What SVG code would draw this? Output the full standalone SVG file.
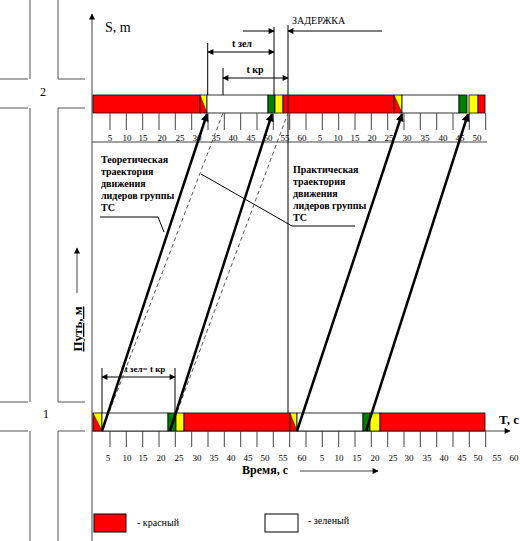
<svg xmlns="http://www.w3.org/2000/svg" width="520" height="541" viewBox="0 0 520 541">
<defs>
<style>
.t{font-family:"Liberation Serif","Times New Roman",serif;fill:#000}
.n{font-size:9px;text-anchor:middle}
.b{font-weight:bold}
.ln{stroke:#444;stroke-width:1;fill:none}
.rd{stroke:#555;stroke-width:1;fill:none}
.dim{stroke:#000;stroke-width:1;fill:none}
.red{fill:#ff0000;stroke:#000;stroke-width:0.8}
.yel{fill:#ffff00;stroke:#000;stroke-width:0.8}
.grn{fill:#008000;stroke:#000;stroke-width:0.8}
.wht{fill:#fff;stroke:#000;stroke-width:0.8}
.thick{stroke:#000;stroke-width:2.5;fill:none}
.dash{stroke:#555;stroke-width:1;stroke-dasharray:4 3;fill:none}
</style>
<marker id="ah" viewBox="0 0 10 10" refX="9" refY="5" markerWidth="7" markerHeight="6" markerUnits="userSpaceOnUse" orient="auto-start-reverse"><path d="M0,0 L10,5 L0,10 z" fill="#000"/></marker>
<marker id="ahb" viewBox="0 0 10 10" refX="9" refY="5" markerWidth="10" markerHeight="8" markerUnits="userSpaceOnUse" orient="auto"><path d="M0,0 L10,5 L0,10 z" fill="#000"/></marker>
</defs>

<!-- road schematic -->
<g id="road">
<path class="rd" d="M30,0 V79 M58,0 V79 M0,79 H28 M58,79 H85 M0,108 H28 M58,108 H85 M30,108 V402 M58,108 V402 M0,402 H28 M58,402 H85 M0,431 H28 M58,431 H85 M30,431 V541 M58,431 V541"/>
<text class="t" x="43" y="96" font-size="12" text-anchor="middle">2</text>
<text class="t" x="46" y="418" font-size="12" text-anchor="middle">1</text>
</g>

<!-- axes -->
<g id="axes">
<line class="ln" x1="92" y1="541" x2="92" y2="14" marker-end="url(#ah)"/>
<line class="ln" x1="92" y1="431" x2="510" y2="431" marker-end="url(#ah)"/>
<line class="ln" x1="92" y1="142" x2="487" y2="142"/>
<text class="t" x="105" y="32" font-size="14">S, m</text>
<text class="t b" x="499" y="424" font-size="13">T, c</text>
<text class="t b" x="242" y="474" font-size="12">Время, с</text>
<line class="ln" x1="300" y1="471" x2="378" y2="471" marker-end="url(#ah)"/>
<text class="t b" transform="translate(82,329) rotate(-90)" font-size="13" text-anchor="middle" text-decoration="underline">Путь, м</text>
<line class="ln" x1="77" y1="293" x2="77" y2="248" marker-end="url(#ah)"/>
</g>

<!-- top signal bar -->
<g id="bar-top">
<rect class="red" x="93" y="95" width="107" height="18"/>
<polygon fill="#ffff00" points="200,95 207,95 207,113"/>
<polygon fill="#ff0000" points="200,95 207,113 200,113"/>
<rect x="200" y="95" width="7" height="18" fill="none" stroke="#000" stroke-width="0.8"/>
<line x1="200" y1="95" x2="207" y2="113" stroke="#000" stroke-width="0.5"/>
<rect class="wht" x="207" y="95" width="61" height="18"/>
<rect class="grn" x="268" y="95" width="7" height="18"/>
<rect class="yel" x="275" y="95" width="8" height="18"/>
<rect class="red" x="283" y="95" width="111" height="18"/>
<polygon fill="#ffff00" points="394,95 402,95 402,113"/>
<polygon fill="#ff0000" points="394,95 402,113 394,113"/>
<rect x="394" y="95" width="8" height="18" fill="none" stroke="#000" stroke-width="0.8"/>
<line x1="394" y1="95" x2="402" y2="113" stroke="#000" stroke-width="0.5"/>
<rect class="wht" x="402" y="95" width="57" height="18"/>
<rect class="grn" x="459" y="95" width="8" height="18"/>
<rect class="yel" x="469" y="95" width="9" height="18"/>
<rect class="red" x="478" y="95" width="7" height="18"/>
</g>

<!-- top ticks -->
<g id="ticks-top">
<path class="ln" d="M110,113V130M126.3,113V130M142.7,113V130M159,113V130M175.3,113V130M191.7,113V130M208,113V130M224.3,113V130M240.7,113V130M257,113V130M273.3,113V130M289.7,113V130M306,113V130M322.3,113V130M338.7,113V130M355,113V130M371.3,113V130M387.7,113V130M404,113V130M420.3,113V130M436.7,113V130M453,113V130M469.3,113V130M485.7,113V130"/>
<text class="t n" x="110" y="141">5</text>
<text class="t n" x="127" y="141">10</text>
<text class="t n" x="143" y="141">15</text>
<text class="t n" x="162" y="141">20</text>
<text class="t n" x="180" y="141">25</text>
<text class="t n" x="197" y="141">30</text>
<text class="t n" x="216" y="141">35</text>
<text class="t n" x="233" y="141">40</text>
<text class="t n" x="251" y="141">45</text>
<text class="t n" x="268" y="141">50</text>
<text class="t n" x="285" y="141">55</text>
<text class="t n" x="302" y="141">60</text>
<text class="t n" x="320" y="141">5</text>
<text class="t n" x="338" y="141">10</text>
<text class="t n" x="355" y="141">15</text>
<text class="t n" x="372" y="141">20</text>
<text class="t n" x="389" y="141">25</text>
<text class="t n" x="407" y="141">30</text>
<text class="t n" x="425" y="141">35</text>
<text class="t n" x="443" y="141">40</text>
<text class="t n" x="460" y="141">45</text>
<text class="t n" x="477" y="141">50</text>
</g>

<!-- bottom signal bar -->
<g id="bar-bottom">
<polygon fill="#ffff00" points="93,413 102,413 102,431"/>
<polygon fill="#ff0000" points="93,413 102,431 93,431"/>
<rect x="93" y="413" width="9" height="18" fill="none" stroke="#000" stroke-width="0.8"/>
<line x1="93" y1="413" x2="102" y2="431" stroke="#000" stroke-width="0.5"/>
<rect class="wht" x="102" y="413" width="66" height="18"/>
<rect class="grn" x="168" y="413" width="8" height="18"/>
<rect class="yel" x="176" y="413" width="8" height="18"/>
<rect class="red" x="184" y="413" width="106" height="18"/>
<polygon fill="#ffff00" points="290,413 297,413 297,431"/>
<polygon fill="#ff0000" points="290,413 297,431 290,431"/>
<rect x="290" y="413" width="7" height="18" fill="none" stroke="#000" stroke-width="0.8"/>
<line x1="290" y1="413" x2="297" y2="431" stroke="#000" stroke-width="0.5"/>
<rect class="wht" x="297" y="413" width="66" height="18"/>
<rect class="grn" x="363" y="413" width="7" height="18"/>
<rect class="yel" x="370" y="413" width="10" height="18"/>
<rect class="red" x="380" y="413" width="105" height="18"/>
</g>

<!-- bottom ticks -->
<g id="ticks-bottom">
<path class="ln" d="M110,431V447M126.3,431V447M142.7,431V447M159,431V447M175.3,431V447M191.7,431V447M208,431V447M224.3,431V447M240.7,431V447M257,431V447M273.3,431V447M289.7,431V447M306,431V447M322.3,431V447M338.7,431V447M355,431V447M371.3,431V447M387.7,431V447M404,431V447M420.3,431V447M436.7,431V447M453,431V447M469.3,431V447M485.7,431V447"/>
<text class="t n" x="108" y="461">5</text>
<text class="t n" x="127" y="461">10</text>
<text class="t n" x="143" y="461">15</text>
<text class="t n" x="161" y="461">20</text>
<text class="t n" x="179" y="461">25</text>
<text class="t n" x="197" y="461">30</text>
<text class="t n" x="214" y="461">35</text>
<text class="t n" x="231" y="461">40</text>
<text class="t n" x="248" y="461">45</text>
<text class="t n" x="265" y="461">50</text>
<text class="t n" x="283" y="461">55</text>
<text class="t n" x="302" y="461">60</text>
<text class="t n" x="322" y="461">5</text>
<text class="t n" x="339" y="461">10</text>
<text class="t n" x="357" y="461">15</text>
<text class="t n" x="375" y="461">20</text>
<text class="t n" x="393" y="461">25</text>
<text class="t n" x="409" y="461">30</text>
<text class="t n" x="427" y="461">35</text>
<text class="t n" x="444" y="461">40</text>
<text class="t n" x="462" y="461">45</text>
<text class="t n" x="478" y="461">50</text>
<text class="t n" x="497" y="461">55</text>
<text class="t n" x="514" y="461">60</text>
</g>

<!-- dimension lines -->
<g id="dimensions">
<path class="dim" d="M207.7,43V95 M223,68V95 M274,27V95 M288,25V413"/>
<line class="dim" x1="243" y1="31" x2="274" y2="31" marker-end="url(#ah)"/>
<line class="dim" x1="382" y1="31" x2="288" y2="31" marker-end="url(#ah)"/>
<text class="t" x="292" y="24" font-size="10">ЗАДЕРЖКА</text>
<line class="dim" x1="208" y1="52" x2="274" y2="52" marker-start="url(#ah)" marker-end="url(#ah)"/>
<text class="t b" x="242" y="47" font-size="10" text-anchor="middle">t зел</text>
<line class="dim" x1="223" y1="78" x2="288" y2="78" marker-start="url(#ah)" marker-end="url(#ah)"/>
<text class="t b" x="255" y="73" font-size="10" text-anchor="middle">t кр</text>
<path class="dim" d="M102,368V413 M175,368V413"/>
<line class="dim" x1="102" y1="377" x2="175" y2="377" marker-start="url(#ah)" marker-end="url(#ah)"/>
<text class="t b" x="145" y="372" font-size="9" text-anchor="middle">t зел= t кр</text>
</g>

<!-- trajectories -->
<g id="connectors">
<line class="dash" x1="102" y1="431" x2="223" y2="113"/>
<line class="dash" x1="170" y1="431" x2="288" y2="113"/>
<line class="thick" x1="102" y1="431" x2="207" y2="114" marker-end="url(#ahb)"/>
<line class="thick" x1="170" y1="431" x2="272" y2="114" marker-end="url(#ahb)"/>
<line class="thick" x1="297" y1="431" x2="402" y2="114" marker-end="url(#ahb)"/>
<line class="thick" x1="366" y1="431" x2="468" y2="114" marker-end="url(#ahb)"/>
<polyline class="dim" points="100,217 158,217 164,232"/>
<polyline class="dim" points="201,174 292,226 355,226"/>
</g>

<!-- labels -->
<g id="label-theory">
<text class="t b" font-size="10" x="101" y="163">Теоретическая</text>
<text class="t b" font-size="10" x="101" y="175">траектория</text>
<text class="t b" font-size="10" x="101" y="187">движения</text>
<text class="t b" font-size="10" x="101" y="199">лидеров группы</text>
<text class="t b" font-size="10" x="101" y="211">ТС</text>
</g>
<g id="label-practice">
<text class="t b" font-size="10" x="293" y="173">Практическая</text>
<text class="t b" font-size="10" x="293" y="185">траектория</text>
<text class="t b" font-size="10" x="293" y="197">движения</text>
<text class="t b" font-size="10" x="293" y="209">лидеров группы</text>
<text class="t b" font-size="10" x="293" y="221">ТС</text>
</g>

<!-- legend -->
<g id="legend">
<rect x="94" y="514" width="32" height="18" fill="#ff0000" stroke="#000" stroke-width="1"/>
<text class="t" x="137" y="526" font-size="10">- красный</text>
<rect x="265" y="514" width="33" height="18" fill="#fff" stroke="#000" stroke-width="1"/>
<text class="t" x="308" y="524" font-size="10">- зеленый</text>
</g>
</svg>
